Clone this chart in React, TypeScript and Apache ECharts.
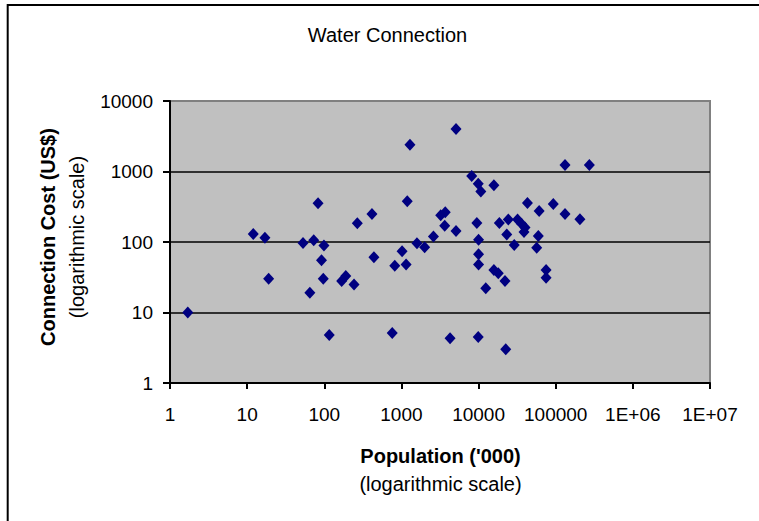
import React, { useEffect, useRef } from "react";
import * as echarts from "echarts";

const populationK: number[] = [
  1.7, 12, 17, 19, 53, 65, 73, 83, 99, 92, 97, 116, 168, 190, 243, 268, 415, 440,
  760, 820, 1020, 1150, 1190, 1290, 1590, 2000, 2600, 3230, 3700, 3640, 4270,
  5100, 5100, 8150, 9900, 10700, 15800, 9500, 10000, 10000, 10000, 9900, 12400,
  15800, 18000, 22000, 22500, 18600, 24300, 23200, 29000, 32000, 36000, 40000,
  38800, 43000, 61000, 59500, 56700, 75000, 75000, 93000, 132000, 206000,
  132000, 273000,
];
const costUSD: number[] = [
  10, 130, 115, 30, 97, 19, 106, 355, 89, 55, 30, 4.8, 28, 33, 25, 185, 250, 61,
  5.1, 46, 74, 48, 380, 2400, 96, 84, 120, 240, 265, 170, 4.3, 4000, 143, 860,
  670, 520, 640, 186, 108, 67, 48, 4.5, 22, 40, 36, 28, 3, 186, 208, 128, 91,
  208, 182, 160, 139, 357, 275, 122, 83, 40, 31, 346, 250, 210, 1240, 1240,
];
const xTickLabels: string[] = ["1", "10", "100", "1000", "10000", "100000", "1E+06", "1E+07"];
const yTickLabels: string[] = ["1", "10", "100", "1000", "10000"];

const chartTitle = "Water Connection";
const xTitle = "Population ('000)";
const yTitle = "Connection Cost (US$)";
const subTitle = "(logarithmic scale)";

const FONT = "'Liberation Sans', Arial, sans-serif";

export default function App() {
  const ref = useRef<HTMLDivElement>(null);
  useEffect(() => {
    if (!ref.current) return;
    const chart = echarts.init(ref.current, null, { renderer: "svg" });
    const data = populationK.map((x, i) => [x, costUSD[i]]);
    const labelFor = (arr: string[]) => (v: number) => {
      const k = Math.round(Math.log10(v));
      return arr[k] ?? String(v);
    };
    chart.setOption({
      animation: false,
      backgroundColor: "#ffffff",
      grid: {
        left: 170,
        top: 101,
        right: 49,
        bottom: 138,
        show: true,
        backgroundColor: "#C0C0C0",
        borderColor: "#808080",
        borderWidth: 2,
      },
      xAxis: {
        type: "log",
        logBase: 10,
        min: 1,
        max: 10000000,
        axisLine: { show: true, lineStyle: { color: "#000", width: 2 } },
        axisTick: { show: true, inside: false, length: 6, lineStyle: { color: "#000", width: 2 } },
        axisLabel: {
          formatter: labelFor(xTickLabels),
          color: "#000",
          fontSize: 19,
          fontFamily: FONT,
          margin: 22,
        },
        splitLine: { show: false },
        minorTick: { show: false },
      },
      yAxis: {
        type: "log",
        logBase: 10,
        min: 1,
        max: 10000,
        axisLine: { show: true, lineStyle: { color: "#000", width: 2 } },
        axisTick: { show: true, inside: false, length: 7, lineStyle: { color: "#000", width: 2 } },
        axisLabel: {
          formatter: labelFor(yTickLabels),
          color: "#000",
          fontSize: 19,
          fontFamily: FONT,
          margin: 17,
        },
        splitLine: {
          show: true,
          showMinLine: false,
          showMaxLine: false,
          lineStyle: { color: "#000", width: 1.5 },
        },
      },
      series: [
        {
          type: "scatter",
          data,
          symbol: "diamond",
          symbolSize: [11, 12],
          itemStyle: { color: "#000080", opacity: 1 },
          z: 5,
        },
      ],
      graphic: [
        {
          type: "line",
          shape: { x1: 7.7, y1: 5, x2: 760, y2: 5 },
          style: { stroke: "#000", lineWidth: 2 },
          silent: true,
        },
        {
          type: "line",
          shape: { x1: 7.7, y1: 4, x2: 7.7, y2: 522 },
          style: { stroke: "#000", lineWidth: 2 },
          silent: true,
        },
        {
          type: "text",
          x: 387.5,
          y: 34.5,
          style: {
            text: chartTitle,
            fill: "#000",
            fontSize: 20,
            fontFamily: FONT,
            align: "center",
            verticalAlign: "middle",
          },
        },
        {
          type: "text",
          x: 440.5,
          y: 456,
          style: {
            text: xTitle,
            fill: "#000",
            fontSize: 20,
            fontWeight: "bold",
            fontFamily: FONT,
            align: "center",
            verticalAlign: "middle",
          },
        },
        {
          type: "text",
          x: 440.5,
          y: 484,
          style: {
            text: subTitle,
            fill: "#000",
            fontSize: 20,
            fontFamily: FONT,
            align: "center",
            verticalAlign: "middle",
          },
        },
        {
          type: "text",
          x: 47.5,
          y: 237,
          rotation: Math.PI / 2,
          style: {
            text: yTitle,
            fill: "#000",
            fontSize: 20,
            fontWeight: "bold",
            fontFamily: FONT,
            align: "center",
            verticalAlign: "middle",
          },
        },
        {
          type: "text",
          x: 76.5,
          y: 237,
          rotation: Math.PI / 2,
          style: {
            text: subTitle,
            fill: "#000",
            fontSize: 20,
            fontFamily: FONT,
            align: "center",
            verticalAlign: "middle",
          },
        },
      ],
    });
    return () => chart.dispose();
  }, []);
  return (
    <div
      ref={ref}
      style={{ position: "fixed", left: 0, top: 0, width: 759, height: 521 }}
    />
  );
}
